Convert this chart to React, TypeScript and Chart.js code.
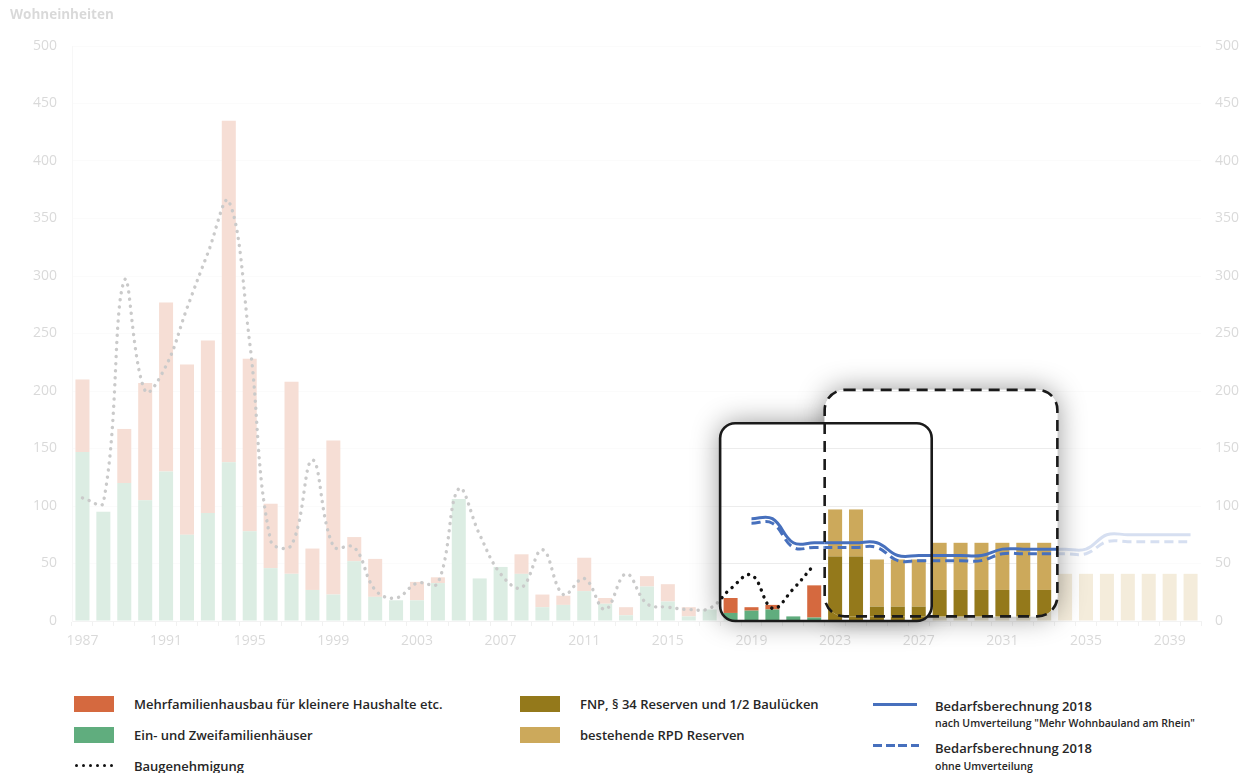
import React, { useEffect, useRef } from "react";
import { Chart, registerables } from "chart.js";

Chart.register(...registerables);

// Years on the category axis
const years = [
  "1987", "1988", "1989", "1990", "1991", "1992", "1993", "1994", "1995", "1996",
  "1997", "1998", "1999", "2000", "2001", "2002", "2003", "2004", "2005", "2006",
  "2007", "2008", "2009", "2010", "2011", "2012", "2013", "2014", "2015", "2016",
  "2017", "2018", "2019", "2020", "2021", "2022", "2023", "2024", "2025", "2026",
  "2027", "2028", "2029", "2030", "2031", "2032", "2033", "2034", "2035", "2036",
  "2037", "2038", "2039", "2040",
];
const xTickYears = ["1987", "1991", "1995", "1999", "2003", "2007", "2011", "2015", "2019", "2023", "2027", "2031", "2035", "2039"];
const yTicks = [0, 50, 100, 150, 200, 250, 300, 350, 400, 450, 500];

// Completed dwellings 1987–2022
const einZweiFamilien = [147, 95, 120, 105, 130, 75, 94, 138, 78, 46, 41, 27, 23, 52, 21, 18, 18, 33, 106, 37, 47, 41, 12, 14, 26, 15, 5, 30, 17, 4, 10, 7, 9, 10, 4, 3];
const mehrfamilien = [63, 0, 47, 102, 147, 148, 150, 297, 150, 56, 167, 36, 134, 21, 33, 0, 16, 5, 0, 0, 0, 17, 11, 8, 29, 5, 7, 9, 15, 8, 0, 13, 3, 4, 0, 28];
// Building permits 1987–2022
const baugenehmigung = [107, 103, 296, 200, 222, 272, 320, 365, 242, 70, 66, 140, 65, 64, 27, 20, 33, 33, 115, 75, 41, 29, 62, 23, 37, 10, 41, 15, 12, 10, 11, 28, 40, 11, 28, 49];

// Land reserves 2023–2040
const fnpReserven = [56, 56, 12.5, 12.5, 12.5, 27, 27, 27, 27, 27, 27, 0, 0, 0, 0, 0, 0, 0];
const rpdReserven = [41, 41, 41, 41, 41, 41, 41, 41, 41, 41, 41, 41, 41, 41, 41, 41, 41, 41];

// Demand calculation 2018, years 2019–2040
const bedarfNachUmverteilung = [89, 89, 68, 68, 68, 68, 68, 57, 57, 57, 57, 57, 62.5, 62.5, 62.5, 62.5, 62.5, 75, 75, 75, 75, 75];
const bedarfOhneUmverteilung = [85, 85, 64, 64, 64, 64, 64, 52.5, 52.5, 52.5, 52.5, 52.5, 58.5, 58.5, 58.5, 58.5, 58.5, 69, 69, 69, 69, 69];

const PAST_START = "1987";
const RESERVE_START = "2023";
const BEDARF_START = "2019";

// Highlighted periods (in year / Wohneinheiten units)
const focusBoxes = [
  { from: 2017.5, to: 2027.62, low: 0, high: 172, dashed: false, radius: 15 },
  { from: 2022.5, to: 2033.63, low: 4, high: 201, dashed: true, radius: 20 },
];

const COLORS = {
  mehr: "#d5693f",
  einZwei: "#60ad7e",
  fnp: "#94791b",
  rpd: "#cca95b",
  bedarf: "#4770bd",
  permit: "#111111",
  axisText: "#555555",
};

const FONT = '"Open Sans", "Noto Sans", sans-serif';

function alignFrom(startYear: string, values: number[]): (number | null)[] {
  const start = years.indexOf(startYear);
  return years.map((_, i) => {
    const k = i - start;
    return k >= 0 && k < values.length ? values[k] : null;
  });
}

const spotlightPlugin = {
  id: "spotlight",
  afterDraw(chart: any) {
    const { ctx, canvas } = chart;
    const xs = chart.scales.x;
    const ys = chart.scales.y;
    const first = Number(years[0]);

    ctx.save();
    ctx.font = `700 13.5px ${FONT}`;
    ctx.fillStyle = COLORS.axisText;
    ctx.textBaseline = "middle";
    ctx.textAlign = "left";
    ctx.fillText("Wohneinheiten", 10, 15);
    ctx.restore();

    const snap = document.createElement("canvas");
    snap.width = canvas.width;
    snap.height = canvas.height;
    (snap.getContext("2d") as CanvasRenderingContext2D).drawImage(canvas, 0, 0);

    const rects = focusBoxes.map((b) => {
      const l = xs.getPixelForValue(b.from - first);
      const r = xs.getPixelForValue(b.to - first);
      const t = ys.getPixelForValue(b.high);
      const bt = ys.getPixelForValue(b.low);
      return { l, t, w: r - l, h: bt - t, radius: b.radius, dashed: b.dashed };
    });
    const path = (r: any) => {
      ctx.beginPath();
      ctx.roundRect(r.l, r.t, r.w, r.h, r.radius);
    };

    ctx.save();
    ctx.setTransform(1, 0, 0, 1, 0, 0);
    ctx.fillStyle = "rgba(255,255,255,0.78)";
    ctx.fillRect(0, 0, canvas.width, canvas.height);

    // soft drop shadow under each highlighted card
    for (const r of rects) {
      ctx.save();
      ctx.shadowColor = "rgba(0,0,0,0.42)";
      ctx.shadowBlur = 28;
      ctx.fillStyle = "#ffffff";
      path(r);
      ctx.fill();
      ctx.restore();
    }
    for (const r of rects) {
      ctx.save();
      path(r);
      ctx.clip();
      ctx.fillStyle = "#ffffff";
      ctx.fillRect(0, 0, canvas.width, canvas.height);
      ctx.drawImage(snap, 0, 0);
      ctx.restore();
    }
    for (const r of rects) {
      ctx.save();
      ctx.lineWidth = 2.6;
      ctx.strokeStyle = "#1a1a1a";
      ctx.setLineDash(r.dashed ? [11, 7] : []);
      path(r);
      ctx.stroke();
      ctx.restore();
    }
    ctx.restore();
  },
};

function ChartCanvas() {
  const ref = useRef<HTMLCanvasElement | null>(null);

  useEffect(() => {
    if (!ref.current) return;
    const barBase = {
      type: "bar" as const,
      stack: "built",
      order: 1,
      barPercentage: 0.67,
      categoryPercentage: 1,
      borderWidth: 0,
    };
    const lineBase = {
      type: "line" as const,
      order: 0,
      pointRadius: 0,
      pointHoverRadius: 0,
      tension: 0.4,
      fill: false,
      spanGaps: false,
    };
    const chart = new Chart(ref.current, {
      type: "bar",
      data: {
        labels: years,
        datasets: [
          { ...barBase, label: "Ein- und Zweifamilienhäuser", data: alignFrom(PAST_START, einZweiFamilien), backgroundColor: COLORS.einZwei },
          { ...barBase, label: "Mehrfamilienhausbau für kleinere Haushalte etc.", data: alignFrom(PAST_START, mehrfamilien), backgroundColor: COLORS.mehr },
          { ...barBase, label: "FNP, § 34 Reserven und 1/2 Baulücken", data: alignFrom(RESERVE_START, fnpReserven), backgroundColor: COLORS.fnp },
          { ...barBase, label: "bestehende RPD Reserven", data: alignFrom(RESERVE_START, rpdReserven), backgroundColor: COLORS.rpd },
          {
            ...lineBase,
            label: "Baugenehmigung",
            stack: "permit",
            data: alignFrom(PAST_START, baugenehmigung),
            borderColor: COLORS.permit,
            borderWidth: 3.4,
            borderDash: [0.1, 7],
            borderCapStyle: "round",
          },
          {
            ...lineBase,
            label: "Bedarfsberechnung 2018 nach Umverteilung",
            stack: "bedarfNach",
            data: alignFrom(BEDARF_START, bedarfNachUmverteilung),
            borderColor: COLORS.bedarf,
            borderWidth: 3,
          },
          {
            ...lineBase,
            label: "Bedarfsberechnung 2018 ohne Umverteilung",
            stack: "bedarfOhne",
            data: alignFrom(BEDARF_START, bedarfOhneUmverteilung),
            borderColor: COLORS.bedarf,
            borderWidth: 3,
            borderDash: [9, 5],
          },
        ] as any,
      },
      options: {
        responsive: false,
        animation: false,
        events: [],
        layout: { padding: { top: 46, left: 0, right: 0, bottom: 0 } },
        plugins: {
          legend: { display: false },
          tooltip: { enabled: false },
          title: { display: false },
        },
        scales: {
          x: {
            stacked: true,
            offset: true,
            grid: {
              display: true,
              offset: true,
              drawOnChartArea: false,
              drawTicks: true,
              tickLength: 5,
              color: "#bfbfbf",
            },
            border: { display: true, color: "#c8c8c8" },
            ticks: {
              autoSkip: false,
              maxRotation: 0,
              minRotation: 0,
              padding: 7,
              color: COLORS.axisText,
              font: { family: FONT, size: 14 },
              callback: function (this: any, value: any) {
                const lbl = this.getLabelForValue(value);
                return xTickYears.includes(lbl) ? lbl : "";
              },
            },
            afterFit: (s: any) => {
              s.height = 59;
            },
          },
          y: {
            stacked: true,
            position: "left",
            min: yTicks[0],
            max: yTicks[yTicks.length - 1],
            grid: { color: "#ececec", drawTicks: false },
            border: { display: true, color: "#d9d9d9" },
            ticks: {
              stepSize: yTicks[1] - yTicks[0],
              padding: 15,
              color: COLORS.axisText,
              font: { family: FONT, size: 14 },
            },
            afterFit: (s: any) => {
              s.width = 72;
            },
          },
          y2: {
            position: "right",
            min: yTicks[0],
            max: yTicks[yTicks.length - 1],
            grid: { display: false, drawTicks: false },
            border: { display: false },
            ticks: {
              stepSize: yTicks[1] - yTicks[0],
              padding: 14,
              color: COLORS.axisText,
              font: { family: FONT, size: 14 },
            },
            afterFit: (s: any) => {
              s.width = 49;
            },
          },
        },
      } as any,
      plugins: [spotlightPlugin],
    });
    return () => chart.destroy();
  }, []);

  return <canvas ref={ref} width={1250} height={680} style={{ position: "absolute", left: 0, top: 0, width: 1250, height: 680 }} />;
}

const textStyle: React.CSSProperties = {
  position: "absolute",
  fontFamily: FONT,
  fontWeight: 600,
  fontSize: 13,
  color: "#262626",
  whiteSpace: "nowrap",
  lineHeight: "16px",
  transform: "translateY(-50%)",
};

function Swatch({ x, y, color }: { x: number; y: number; color: string }) {
  return <div style={{ position: "absolute", left: x, top: y - 8, width: 40, height: 16, background: color }} />;
}

function Label({ x, y, text, size }: { x: number; y: number; text: string; size?: number }) {
  return <div style={{ ...textStyle, left: x, top: y, fontSize: size ?? 13 }}>{text}</div>;
}

function Legend() {
  const dots = [0, 1, 2, 3, 4, 5];
  return (
    <>
      <Swatch x={74} y={704} color={COLORS.mehr} />
      <Label x={134} y={704} text="Mehrfamilienhausbau für kleinere Haushalte etc." />
      <Swatch x={74} y={735} color={COLORS.einZwei} />
      <Label x={134} y={735} text="Ein- und Zweifamilienhäuser" />
      {dots.map((d) => (
        <div key={d} style={{ position: "absolute", left: 75 + d * 7, top: 764, width: 3, height: 3, borderRadius: 2, background: COLORS.permit }} />
      ))}
      <Label x={134} y={766} text="Baugenehmigung" />

      <Swatch x={520} y={704} color={COLORS.fnp} />
      <Label x={580} y={704} text="FNP, § 34 Reserven und 1/2 Baulücken" />
      <Swatch x={520} y={735} color={COLORS.rpd} />
      <Label x={580} y={735} text="bestehende RPD Reserven" />

      <div style={{ position: "absolute", left: 873, top: 703, width: 44, height: 3, background: COLORS.bedarf }} />
      <Label x={935} y={706} text="Bedarfsberechnung 2018" />
      <Label x={935} y={723} size={10.5} text={'nach Umverteilung "Mehr Wohnbauland am Rhein"'} />
      <div
        style={{
          position: "absolute",
          left: 873,
          top: 744,
          width: 46,
          height: 3,
          background: `repeating-linear-gradient(90deg, ${COLORS.bedarf} 0 9px, transparent 9px 12.5px)`,
        }}
      />
      <Label x={935} y={748} text="Bedarfsberechnung 2018" />
      <Label x={935} y={766} size={10.5} text="ohne Umverteilung" />
    </>
  );
}

export default function App() {
  return (
    <div style={{ position: "absolute", left: 0, top: 0, width: 1250, height: 773, background: "#ffffff", overflow: "hidden" }}>
      <ChartCanvas />
      <Legend />
    </div>
  );
}
